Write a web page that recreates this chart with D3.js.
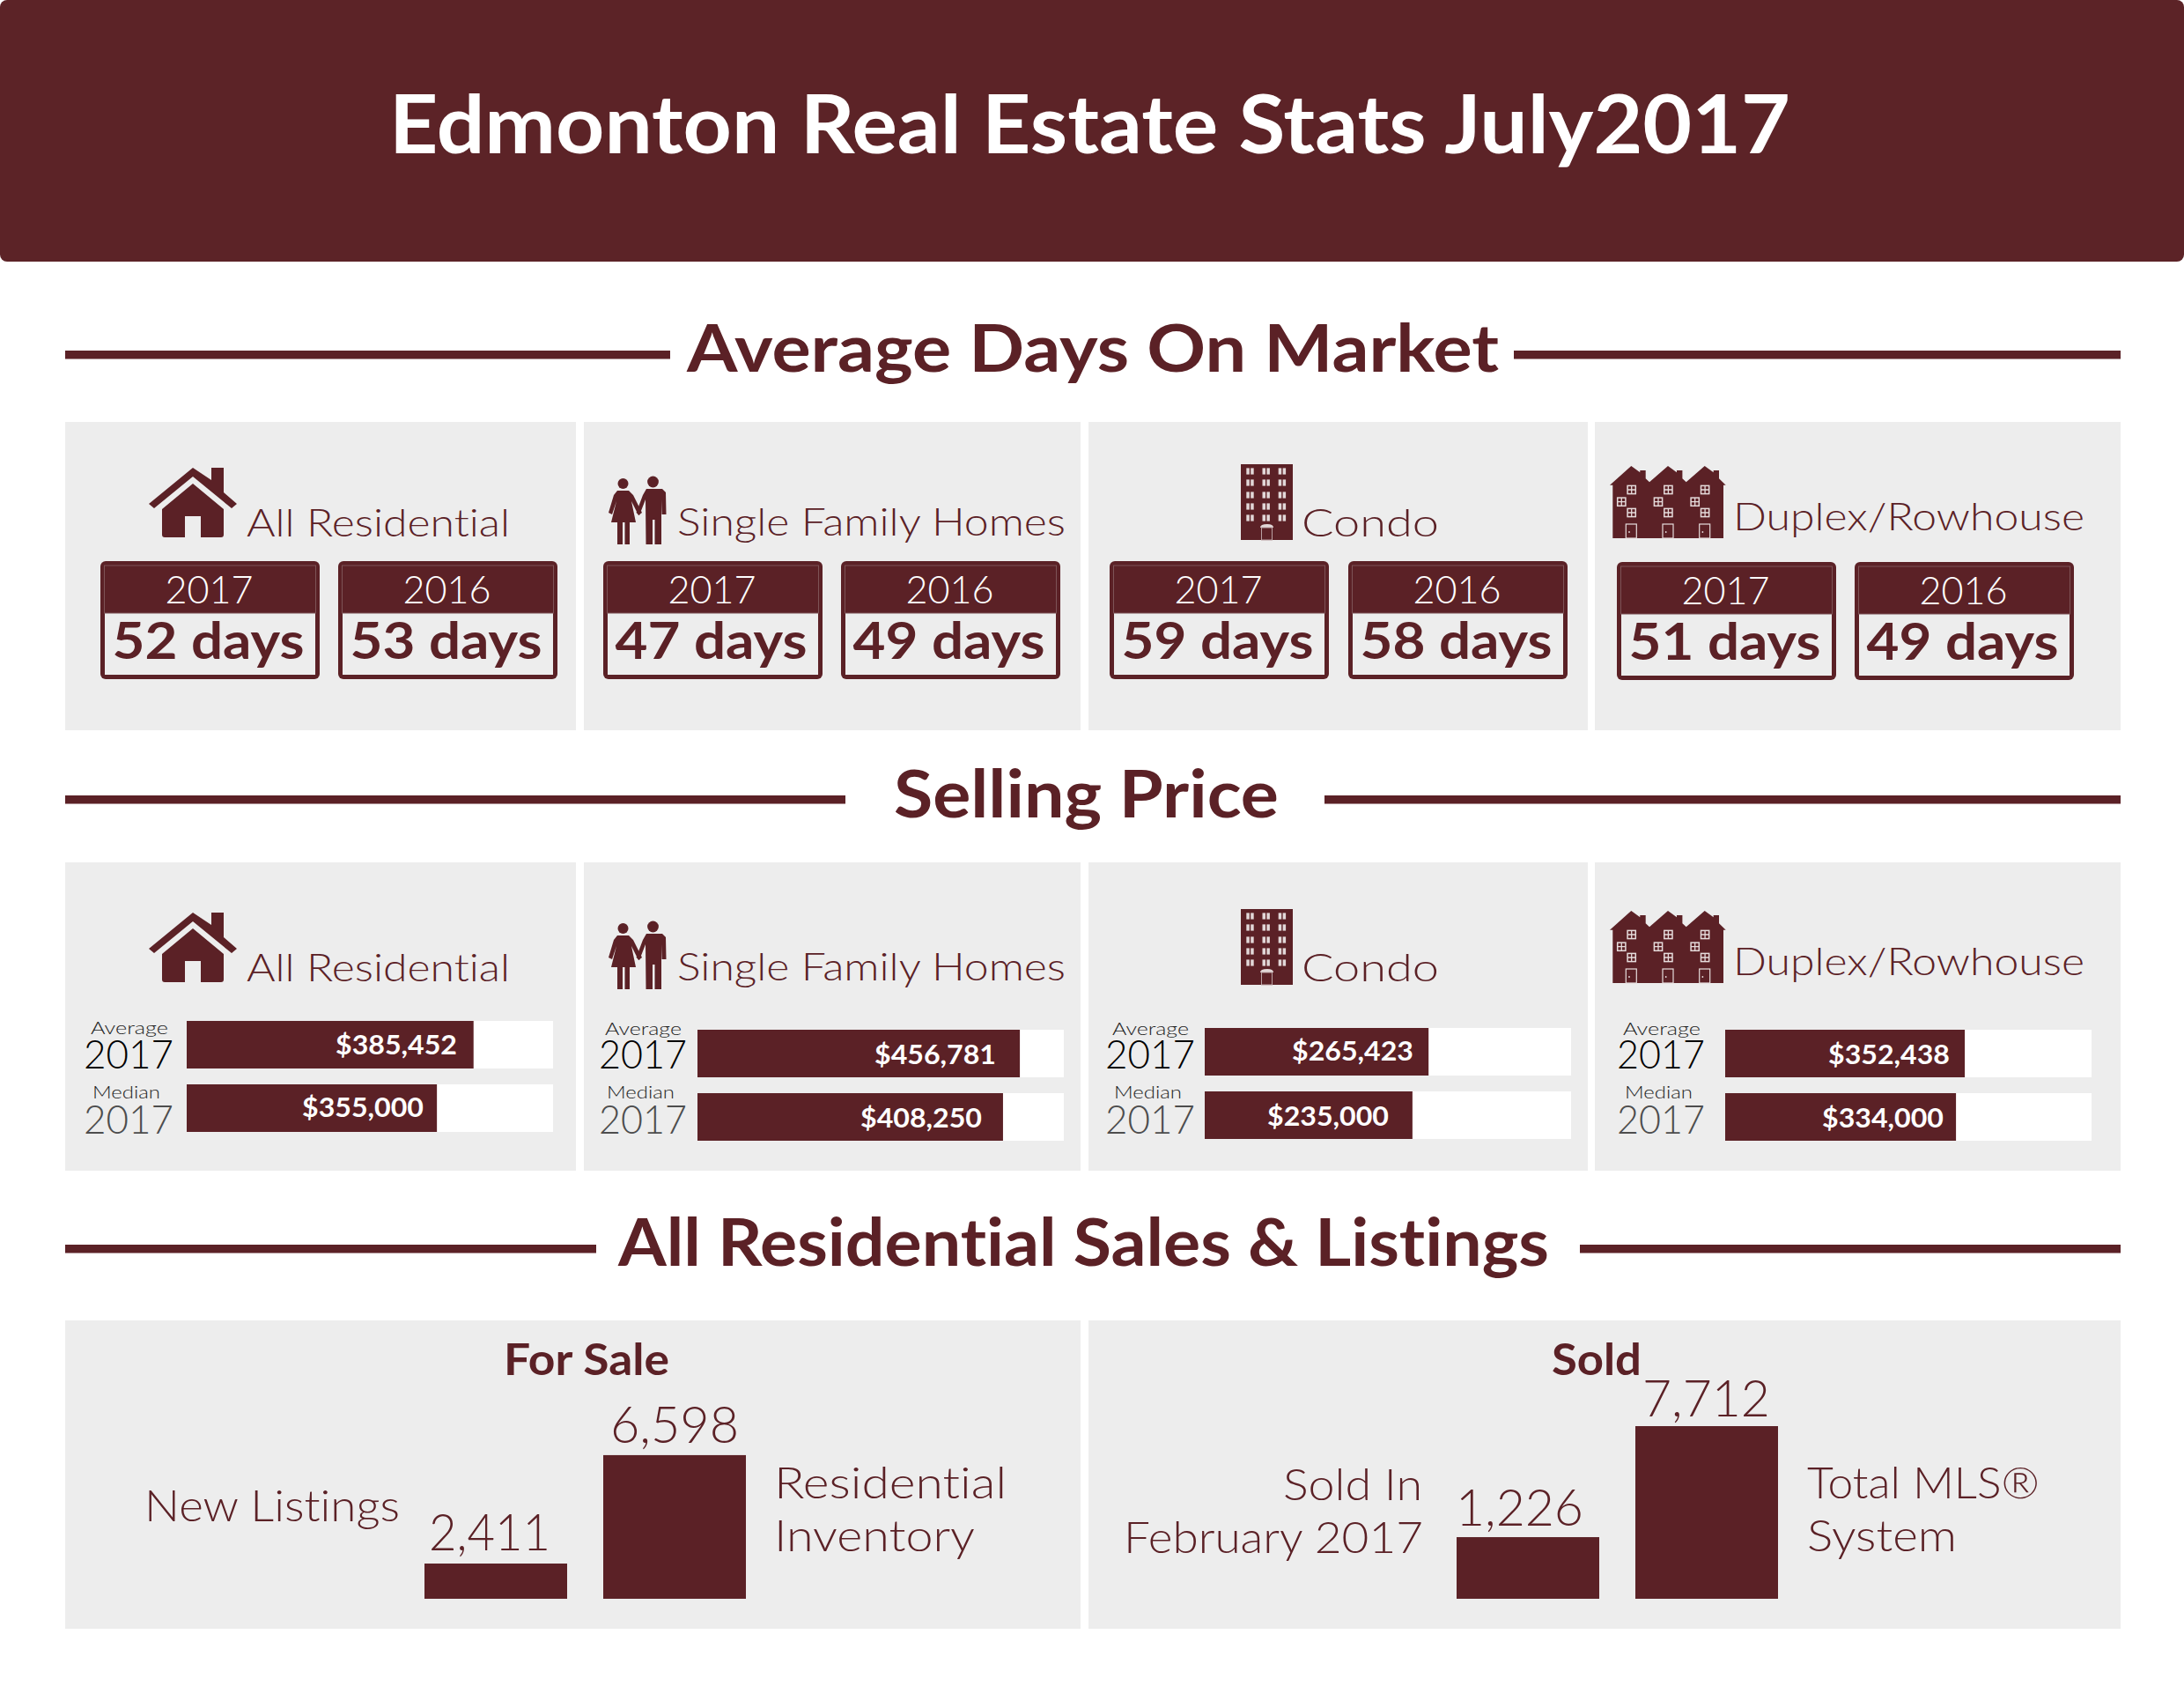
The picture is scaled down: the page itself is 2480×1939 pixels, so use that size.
<!DOCTYPE html>
<html>
<head>
<meta charset="utf-8">
<title>Edmonton Real Estate Stats July2017</title>
<script src="https://cdnjs.cloudflare.com/ajax/libs/d3/7.8.5/d3.min.js"></script>
<style>
  html, body { margin: 0; padding: 0; background: #fff; }
  svg { display: block; }
  text { font-family: Lato, "Open Sans", sans-serif; font-variant-ligatures: none; }
</style>
</head>
<body>
<div id="chart"></div>
<script>
// ---- data
var title = 'Edmonton Real Estate Stats July2017'
var sections = ['Average Days On Market', 'Selling Price', 'All Residential Sales & Listings']
var categories = ['All Residential', 'Single Family Homes', 'Condo', 'Duplex/Rowhouse']
var years = ['2017', '2016']
var days2017 = [52, 47, 59, 51]
var days2016 = [53, 49, 58, 49]
var avgPrices = [385452, 456781, 265423, 352438]
var medianPrices = [355000, 408250, 235000, 334000]
// the source bars are not proportional to their prices, so the lengths are read separately (% of the white track)
var avgFill = [78.3, 88.0, 61.1, 65.4]
var medianFill = [68.3, 83.4, 56.7, 63.0]
var forSaleValues = [2411, 6598]
var soldValues = [1226, 7712]
// same for the lower bars: height as % of the tallest one
var forSaleLevels = [20.4, 83.2]
var soldLevels = [35.7, 100]

// ---- layout
var dark = '#5b2126', panelGrey = '#ededed'
var panelCols = [[74, 654], [663, 1227], [1236, 1803], [1811, 2408]]
var panelRows = [[479, 829], [979, 1329]]
var lowerPanels = [[74, 1227], [1236, 2408]]
var catX = [[280, 579], [769, 1210], [1478, 1634], [1968, 2367]]
var catBase = [609, 608, 609, 602]
var rowShift = [0, 505]
var cardX = [[114, 384], [685, 955], [1260, 1531], [1836, 2106]]
var cardTop = [637, 637, 637, 638]
var cardW = 249, cardH = 134, cardHead = 59
var trackX = [212, 792, 1368, 1959], trackW = 416, trackH = 54
var trackY = [[1159, 1231], [1169, 1241], [1167, 1239], [1169, 1241]]
var priceEnd = [[519, 481], [1131, 1115], [1605, 1577], [2214, 2207]]
var priceBase = [[1197, 1268], [1208, 1280], [1204, 1278], [1208, 1280]]
var yearX = [[95, 197], [680, 780], [1255, 1357], [1836, 1936]]
var avgWordX = [[103, 191], [687, 774], [1263, 1350], [1843, 1931]]
var medWordX = [[105, 182], [689, 766], [1265, 1342], [1845, 1922]]

var svg = d3.select('#chart').append('svg').attr('width', 2480).attr('height', 1939)

// text squeezed or stretched to the span it has in the source
function put(g, str, x0, x1, base, size, weight, fill) {
    return g.append('text')
        .attr('x', x0).attr('y', base)
        .attr('textLength', x1 - x0).attr('lengthAdjust', 'spacingAndGlyphs')
        .attr('font-size', size).attr('font-weight', weight).attr('fill', fill)
        .text(str)
}

// ---- banner
svg.append('rect').attr('x', 0).attr('y', 0).attr('width', 2480).attr('height', 297).attr('rx', 8).attr('fill', '#5c2327')
put(svg, title, 442, 2033, 174, 92, 700, '#fff')

// ---- section headings
var heads = [
    {x: [780, 1702], base: 422, line: 403, gap: [761, 1719]},
    {x: [1015, 1452], base: 928, line: 908, gap: [960, 1504]},
    {x: [702, 1759], base: 1437, line: 1418, gap: [677, 1794]}
]
heads.forEach(function(h, i) {
    put(svg, sections[i], h.x[0], h.x[1], h.base, 75, 700, dark)
    svg.append('rect').attr('x', 74).attr('y', h.line - 5).attr('width', h.gap[0] - 74).attr('height', 9.5).attr('fill', dark)
    svg.append('rect').attr('x', h.gap[1]).attr('y', h.line - 5).attr('width', 2408 - h.gap[1]).attr('height', 9.5).attr('fill', dark)
})

// ---- grey panels
panelRows.forEach(function(r) {
    svg.selectAll(null).data(panelCols).enter().append('rect')
        .attr('x', function(d) { return d[0] })
        .attr('y', r[0])
        .attr('width', function(d) { return d[1] - d[0] })
        .attr('height', r[1] - r[0])
        .attr('fill', panelGrey)
})
svg.selectAll(null).data(lowerPanels).enter().append('rect')
    .attr('x', function(d) { return d[0] })
    .attr('y', 1499)
    .attr('width', function(d) { return d[1] - d[0] })
    .attr('height', 350)
    .attr('fill', panelGrey)

// ---- icons
function houseIcon(g) {
    g.append('path').attr('fill', dark)
        .attr('d', 'M0,41 L50,0 L71,14 L71,0 L85,0 L85,28 L100,41 L94,46 L50,10 L6,46 Z')
    g.append('path').attr('fill', dark)
        .attr('d', 'M50,18 L85,47 L85,76 Q85,79 82,79 L59,79 L59,55 L41,55 L41,79 L18,79 Q15,79 15,76 L15,47 Z')
}

function peopleIcon(g) {
    g.append('circle').attr('cx', 16.5).attr('cy', 9).attr('r', 6).attr('fill', dark)
    g.append('circle').attr('cx', 50.5).attr('cy', 7).attr('r', 6.4).attr('fill', dark)
    // woman
    g.append('path').attr('fill', dark)
        .attr('d', 'M10,17 L23,17 L28,22 L38,42 L34,45 L26,29 L31,53 L24,53 L24,78 L18.5,78 L18.5,53 L16,53 L16,78 L10,78 L10,53 L3,53 L9,29 L4,44 L0,42 L6,22 Z')
    // man
    g.append('path').attr('fill', dark)
        .attr('d', 'M43,15 L61,15 L65,19 L65.5,44 L60.5,44 L60,27 L60,78 L52.5,78 L52.5,50 L50,50 L50,78 L42.5,78 L42,27 L35,45 L31.5,42 L39,22 Z')
}

function condoIcon(g) {
    g.append('rect').attr('width', 59).attr('height', 86).attr('fill', dark)
    var cols = [10.5, 28.7, 46.9], rows = [8, 21, 35, 48, 61]
    rows.forEach(function(y) {
        cols.forEach(function(x) {
            g.append('rect').attr('x', x - 4.2).attr('y', y - 3.6).attr('width', 3.5).attr('height', 7.2).attr('fill', '#e2d8d8')
            g.append('rect').attr('x', x + 0.7).attr('y', y - 3.6).attr('width', 3.5).attr('height', 7.2).attr('fill', '#e2d8d8')
        })
    })
    g.append('path').attr('fill', '#e2d8d8').attr('d', 'M22,72 Q22,68 30,68 Q37,68 37,72 Z')
    g.append('rect').attr('x', 23.5).attr('y', 72).attr('width', 12).attr('height', 14).attr('fill', dark).attr('stroke', '#b9a0a2').attr('stroke-width', 1)
}

function rowIcon(g) {
    g.append('path').attr('fill', dark)
        .attr('d', 'M0,21.7 L24.3,0 L34.3,7.3 L34.3,5 L40.7,5 L40.7,14.3 L45,18.3 L66,0 L76,7.3 L76,5 L82.4,5 L82.4,14.3 L86.7,18.3 L107.7,0 L117.7,7.3 L117.7,5 L124,5 L124,14.3 L131.7,21.7 L129,21.7 L129,82 L3.3,82 L3.3,21.7 Z')
    var light = '#e6dcdc'
    d3.range(3).forEach(function(u) {
        var off = u * 41.7
        ;[[24.7, 27], [13.3, 40.7], [24.7, 53]].forEach(function(w) {
            var cx = w[0] + off, cy = w[1]
            g.append('rect').attr('x', cx - 4.6).attr('y', cy - 4.6).attr('width', 9.2).attr('height', 9.2).attr('fill', dark).attr('stroke', light).attr('stroke-width', 1.5)
            g.append('path').attr('d', 'M' + cx + ',' + (cy - 4.6) + 'V' + (cy + 4.6) + 'M' + (cx - 4.6) + ',' + cy + 'H' + (cx + 4.6)).attr('stroke', light).attr('stroke-width', 1.3)
        })
        g.append('rect').attr('x', 18.3 + off).attr('y', 66).attr('width', 12).attr('height', 16).attr('fill', dark).attr('stroke', light).attr('stroke-width', 1.2)
        g.append('circle').attr('cx', 22 + off).attr('cy', 75).attr('r', 0.9).attr('fill', light)
    })
}

var icons = [
    {draw: houseIcon, x: 169, y: 531},
    {draw: peopleIcon, x: 691, y: 540},
    {draw: condoIcon, x: 1409, y: 527},
    {draw: rowIcon, x: 1828, y: 529}
]

// panel titles + icons, both rows
rowShift.forEach(function(shift) {
    categories.forEach(function(c, i) {
        put(svg, c, catX[i][0], catX[i][1], catBase[i] + shift, 43, 300, dark)
        var g = svg.append('g').attr('transform', 'translate(' + icons[i].x + ',' + (icons[i].y + shift) + ')')
        icons[i].draw(g)
    })
})

// ---- days on market cards
categories.forEach(function(c, i) {
    var vals = [days2017[i], days2016[i]]
    vals.forEach(function(v, j) {
        var x = cardX[i][j], y = cardTop[i], cx = x + cardW / 2
        svg.append('rect').attr('x', x).attr('y', y).attr('width', cardW).attr('height', cardH).attr('rx', 6).attr('fill', dark)
        svg.append('rect').attr('x', x + 5).attr('y', y + cardHead).attr('width', cardW - 10).attr('height', cardH - cardHead - 5).attr('fill', panelGrey)
        svg.append('rect').attr('x', x + 4.5).attr('y', y + 5).attr('width', cardW - 9).attr('height', cardHead - 5)
            .attr('fill', 'none').attr('stroke', '#7d5356').attr('stroke-width', 1)
        put(svg, years[j], cx - 51, cx + 49, y + 48, 44, 300, '#fff')
        put(svg, v + ' days', cx - 111, cx + 107, y + 111, 58, 700, dark)
    })
})

// ---- selling price bars
var money = d3.format('$,')
categories.forEach(function(c, i) {
    var x = d3.scaleLinear().domain([0, 100]).range([trackX[i], trackX[i] + trackW])
    var fills = [avgFill[i], medianFill[i]]
    var prices = [avgPrices[i], medianPrices[i]]
    svg.selectAll(null).data(fills).enter().append('rect')
        .attr('x', x(0))
        .attr('y', function(d, j) { return trackY[i][j] })
        .attr('width', x(100) - x(0))
        .attr('height', trackH)
        .attr('fill', '#fff')
    svg.selectAll(null).data(fills).enter().append('rect')
        .attr('x', x(0))
        .attr('y', function(d, j) { return trackY[i][j] })
        .attr('width', function(d) { return x(d) - x(0) })
        .attr('height', trackH)
        .attr('fill', dark)
    prices.forEach(function(p, j) {
        put(svg, money(p), priceEnd[i][j] - 138, priceEnd[i][j], priceBase[i][j], 31, 700, '#fff')
    })
    var b = i === 0 ? 1174 : 1175
    put(svg, 'Average', avgWordX[i][0], avgWordX[i][1], b, 20, 300, '#222')
    put(svg, '2017', yearX[i][0], yearX[i][1], 1213, 46, 300, '#000')
    put(svg, 'Median', medWordX[i][0], medWordX[i][1], 1247, 20, 300, '#222')
    put(svg, '2017', yearX[i][0], yearX[i][1], 1287, 46, 300, '#4d4d4d')
})

// ---- for sale / sold bars
var yLevel = d3.scaleLinear().domain([0, 100]).range([1815, 1619])
var lowerGroups = [
    {name: 'For Sale', nameX: [572, 760], bars: [482, 685], w: 162, levels: forSaleLevels, values: forSaleValues,
        valX: [[487, 625], [693, 839]], valBase: [1760, 1638]},
    {name: 'Sold', nameX: [1762, 1864], bars: [1654, 1857], w: 162, levels: soldLevels, values: soldValues,
        valX: [[1653, 1798], [1865, 2010]], valBase: [1732, 1608]}
]
var fmt = d3.format(',')
lowerGroups.forEach(function(d) {
    put(svg, d.name, d.nameX[0], d.nameX[1], 1561, 50, 700, dark)
    svg.selectAll(null).data(d.levels).enter().append('rect')
        .attr('x', function(v, j) { return d.bars[j] })
        .attr('y', function(v) { return yLevel(v) })
        .attr('width', d.w)
        .attr('height', function(v) { return yLevel(0) - yLevel(v) })
        .attr('fill', dark)
    d.values.forEach(function(v, j) {
        put(svg, fmt(v), d.valX[j][0], d.valX[j][1], d.valBase[j], 58, 300, dark)
    })
})

var sideLabels = [
    ['New Listings', 164, 454, 1727],
    ['Residential', 879, 1143, 1701],
    ['Inventory', 879, 1107, 1761],
    ['Sold In', 1457, 1615, 1703],
    ['February 2017', 1276, 1616, 1763],
    ['Total MLS\u00ae', 2052, 2316, 1701],
    ['System', 2052, 2222, 1761]
]
sideLabels.forEach(function(s) {
    put(svg, s[0], s[1], s[2], s[3], 49, 300, dark)
})
</script>
</body>
</html>
